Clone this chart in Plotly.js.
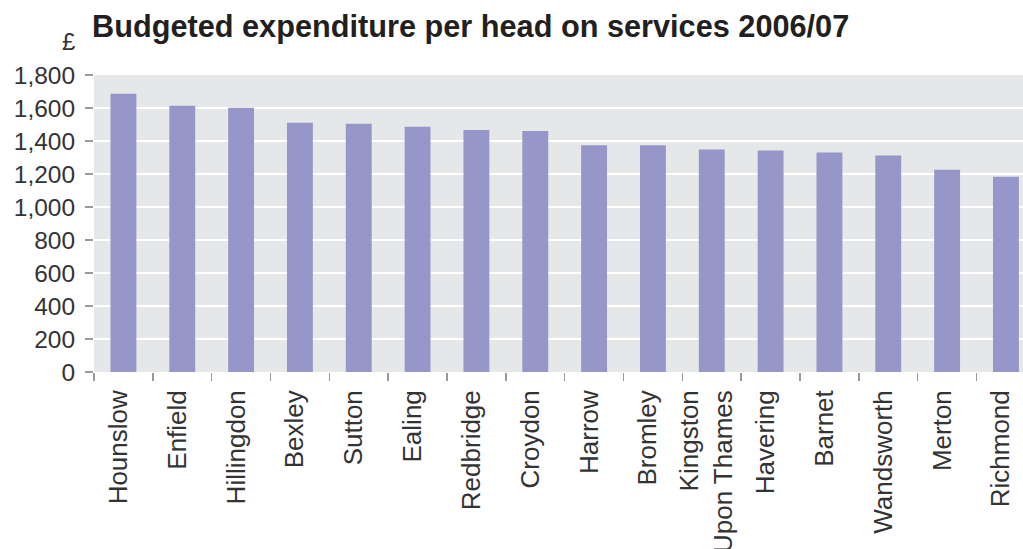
<!DOCTYPE html>
<html>
<head>
<meta charset="utf-8">
<script src="https://cdn.plot.ly/plotly-3.0.1.min.js"></script>
<style>
html,body{margin:0;padding:0;overflow:hidden;background:#fff;}
#chart{width:1023px;height:549px;}
</style>
</head>
<body>
<div id="chart"></div>
<script>
var boroughs = ["Hounslow","Enfield","Hillingdon","Bexley","Sutton","Ealing","Redbridge","Croydon","Harrow","Bromley","Kingston<br>Upon Thames","Havering","Barnet","Wandsworth","Merton","Richmond"];
var spendPerHead = [1687,1614,1602,1510,1504,1486,1467,1461,1374,1374,1349,1343,1331,1312,1226,1183];
var yTickVals = [0,200,400,600,800,1000,1200,1400,1600,1800];
var yTickText = ["0","200","400","600","800","1,000","1,200","1,400","1,600","1,800"];

var fontFam = '"Liberation Sans", Arial, Helvetica, sans-serif';

var trace = {
  type: 'bar',
  x: boroughs,
  y: spendPerHead,
  width: 0.44,
  marker: {color: '#9696c8'},
  hoverinfo: 'x+y'
};

var layout = {
  width: 1023,
  height: 549,
  margin: {l: 94, r: 0, t: 75, b: 177, pad: 0},
  paper_bgcolor: '#ffffff',
  plot_bgcolor: '#e6e7e9',
  showlegend: false,
  title: {
    text: '<b>Budgeted expenditure per head on services 2006/07</b>',
    font: {family: fontFam, size: 30.7, color: '#231f20'},
    x: 92/1023, xanchor: 'left', xref: 'container',
    y: 1 - 26/549, yanchor: 'middle', yref: 'container'
  },
  xaxis: {
    type: 'category',
    range: [-0.5, 15.29],
    tickson: 'boundaries',
    ticks: 'outside',
    ticklen: 8,
    tickwidth: 1.5,
    tickcolor: '#9a9a9a',
    tickangle: -90,
    ticklabelstandoff: 12,
    ticklabelshift: -5,
    tickfont: {family: fontFam, size: 26, color: '#333333'},
    showgrid: false,
    showline: false,
    zeroline: false,
    fixedrange: true
  },
  yaxis: {
    range: [0, 1800],
    tickmode: 'array',
    tickvals: yTickVals,
    ticktext: yTickText,
    ticks: 'outside',
    ticklen: 8,
    tickwidth: 1.5,
    tickcolor: '#9a9a9a',
    ticklabelstandoff: 5,
    tickfont: {family: fontFam, size: 24.5, color: '#333333'},
    showgrid: true,
    gridcolor: '#ffffff',
    gridwidth: 1.5,
    showline: false,
    zeroline: false,
    fixedrange: true
  },
  annotations: [{
    text: '£',
    xref: 'paper', yref: 'paper',
    x: -26/929, y: 1 + 34/297,
    xanchor: 'center', yanchor: 'middle',
    showarrow: false,
    font: {family: fontFam, size: 24, color: '#333333'}
  }]
};

Plotly.newPlot('chart', [trace], layout, {displayModeBar: false, staticPlot: true});
</script>
</body>
</html>
